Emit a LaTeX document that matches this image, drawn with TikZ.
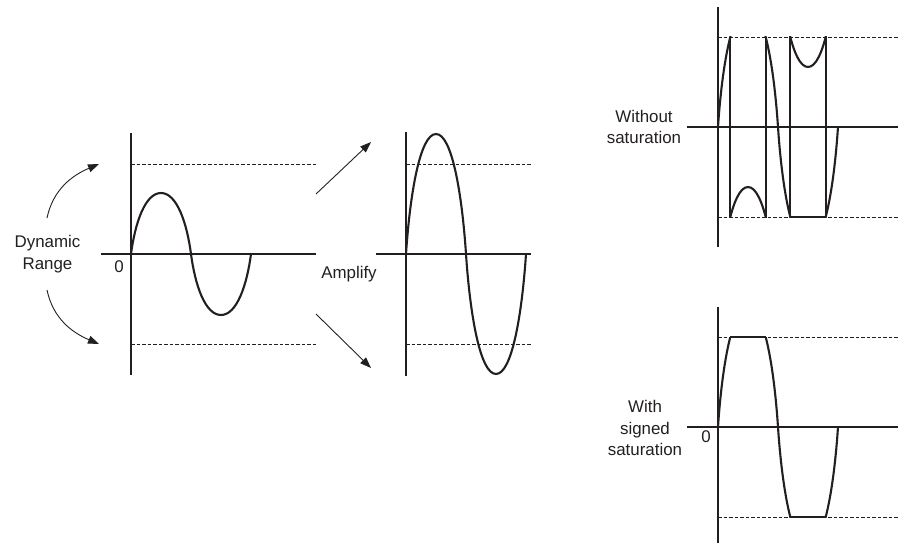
\documentclass[tikz,border=0pt]{standalone}
\usepackage{fontspec}
\setmainfont{Liberation Sans}
\usetikzlibrary{arrows.meta}
\definecolor{Ink}{HTML}{231F20}
\tikzset{axis/.style={line width=1.1pt,draw=Ink},
  bound/.style={line width=0.9pt,draw=Ink,dash pattern=on 3.5pt off 2pt},
  wave/.style={line width=2.1pt,draw=Ink,line join=round},
  words/.style={font=\fontsize{16.9}{21.5}\selectfont,text=Ink,align=center,inner sep=0pt},
  pointer/.style={-{Triangle[length=11pt,width=8pt]},line width=0.9pt,draw=Ink}}
\newcommand\sinewave[1]{(0,0) .. controls (4,0.5*#1) and (14,#1) .. (30,#1)
  .. controls (46,#1) and (56,0.5*#1) .. (60,0)
  .. controls (64,-0.5*#1) and (74,-#1) .. (90,-#1)
  .. controls (106,-#1) and (116,-0.5*#1) .. (120,0)}

\begin{document}
\begin{tikzpicture}[x=1pt,y=1pt]
\useasboundingbox (0,0) rectangle (906,-543);
\node[words] (dr) at (47.5,-254) {Dynamic\\Range};
\node[words] (amp) at (349,-274) {Amplify};
\node[words] (ws) at (644,-127) {Without\\saturation};
\node[words] (ss) at (645,-428) {With\\signed\\saturation};
\coordinate (a1) at (47,-218); \coordinate (b1) at (99,-164);
\coordinate (a2) at (47,-290); \coordinate (b2) at (99,-344);
\coordinate (a3) at (316,-194); \coordinate (b3) at (371,-142);
\coordinate (a4) at (316,-314); \coordinate (b4) at (371,-368);
\draw[pointer] (a1) to[out=78,in=203] (b1);
\draw[pointer] (a2) to[out=-78,in=157] (b2);
\draw[pointer] (a3)--(b3);\draw[pointer] (a4)--(b4);
\begin{scope}[shift={(131,-254)}]
\draw[axis] (0,121)--(0,-121) (-30,0)--(185,0);
\draw[bound] (0,90)--(186,90) (0,-90)--(186,-90);
\draw[wave] \sinewave{61};
\node[words] (z1) at (-12,-13) {0};
\end{scope}
\begin{scope}[shift={(406,-254)}]
\draw[axis] (0,122)--(0,-122) (-30,0)--(125,0);
\draw[bound] (0,90)--(125,90) (0,-90)--(125,-90);
\draw[wave] \sinewave{120};
\end{scope}
\begin{scope}[shift={(718,-127)}]
\draw[axis] (0,120)--(0,-120) (-31,0)--(180,0);
\draw[bound] (0,90)--(180,90) (0,-90)--(180,-90);
\begin{scope}
\clip (-2,-90) rectangle (122,90);
\foreach \s in {-180,0,180} \draw[wave,yshift=\s] \sinewave{120};
\end{scope}
\draw[wave] (12.1,90)--(12.1,-90) (47.9,-90)--(47.9,90) (72.1,90)--(72.1,-90)
  --(107.9,-90)--(107.9,90);
\end{scope}
\begin{scope}[shift={(718,-427)}]
\draw[axis] (0,120)--(0,-116) (-31,0)--(180,0);
\draw[bound] (0,90)--(180,90) (0,-90)--(180,-90);
\begin{scope}
\clip (-2,-90) rectangle (122,90);
\draw[wave] \sinewave{120};
\end{scope}
\draw[wave] (12.1,90)--(47.9,90) (72.1,-90)--(107.9,-90);
\node[words] (z2) at (-12,-10) {0};
\end{scope}
\end{tikzpicture}
\end{document}
